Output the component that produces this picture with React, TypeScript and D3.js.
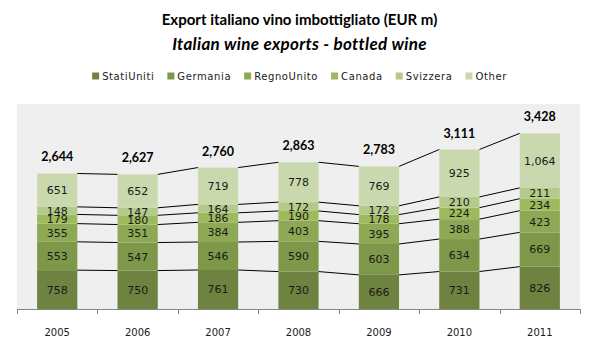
import React, { useRef, useEffect } from "react";
import * as d3 from "d3";

// values (EUR m)
const years = ["2005", "2006", "2007", "2008", "2009", "2010", "2011"];
const seriesNames = ["StatiUniti", "Germania", "RegnoUnito", "Canada", "Svizzera", "Other"];
const statiUniti = [758, 750, 761, 730, 666, 731, 826];
const germania = [553, 547, 546, 590, 603, 634, 669];
const regnoUnito = [355, 351, 384, 403, 395, 388, 423];
const canada = [179, 180, 186, 190, 178, 224, 234];
const svizzera = [148, 147, 164, 172, 172, 210, 211];
const other = [651, 652, 719, 778, 769, 925, 1064];
const totals = [2644, 2627, 2760, 2863, 2783, 3111, 3428];
const colors = ["#6e833f", "#7e9849", "#8ea955", "#9dbb5c", "#b4ca8b", "#c9d9ad"];

const W = 599;
const H = 351;
const plot = { left: 17, right: 580, top: 104, bottom: 309 };

export default function App() {
  const ref = useRef<SVGSVGElement>(null);

  useEffect(() => {
    if (!ref.current) return;
    const svg = d3.select(ref.current);
    svg.selectAll("*").remove();

    const valueFont = "'DejaVu Sans', Verdana, sans-serif";
    const titleFont = "Lato, 'Open Sans', sans-serif";

    const cols = [statiUniti, germania, regnoUnito, canada, svizzera, other];
    const rows = years.map((y, i) => {
      const r: any = { year: y };
      seriesNames.forEach((s, k) => (r[s] = cols[k][i]));
      return r;
    });
    const stacked = d3.stack().keys(seriesNames)(rows);

    const x = d3.scaleBand().domain(years).range([plot.left, plot.right]).paddingInner(0.5).paddingOuter(0.25);
    const y = d3.scaleLinear().domain([0, 4000]).range([plot.bottom, plot.top]);
    const bw = x.bandwidth();

    // plot background
    svg.append("rect").attr("x", plot.left).attr("y", plot.top)
      .attr("width", plot.right - plot.left).attr("height", plot.bottom - plot.top).attr("fill", "#efefef");

    // bars
    stacked.forEach((layer, k) => {
      svg.append("g").selectAll("rect").data(layer).enter().append("rect")
        .attr("x", (d: any) => x(d.data.year)!)
        .attr("y", (d) => y(d[1]))
        .attr("width", bw)
        .attr("height", (d) => y(d[0]) - y(d[1]))
        .attr("fill", colors[k]);
    });

    // series lines between bars
    stacked.forEach((layer) => {
      for (let i = 0; i < layer.length - 1; i++) {
        svg.append("line")
          .attr("x1", x(years[i])! + bw).attr("y1", y(layer[i][1]))
          .attr("x2", x(years[i + 1])!).attr("y2", y(layer[i + 1][1]))
          .attr("stroke", "#000").attr("stroke-width", 1);
      }
    });

    // segment values
    stacked.forEach((layer) => {
      svg.append("g").selectAll("text").data(layer).enter().append("text")
        .attr("x", (d: any) => x(d.data.year)! + bw / 2)
        .attr("y", (d) => (y(d[0]) + y(d[1])) / 2)
        .attr("dy", "0.36em").attr("text-anchor", "middle")
        .attr("font-family", valueFont).attr("font-size", "11px").attr("fill", "#1a1a1a")
        .text((d) => d3.format(",")(d[1] - d[0]));
    });

    // totals
    svg.append("g").selectAll("text").data(totals).enter().append("text")
      .attr("x", (d, i) => x(years[i])! + bw / 2)
      .attr("y", (d, i) => y(stacked[stacked.length - 1][i][1]) - 12)
      .attr("text-anchor", "middle")
      .attr("font-family", titleFont).attr("font-weight", "700").attr("font-size", "12.5px").attr("fill", "#000")
      .text((d) => d3.format(",")(d));

    // x axis
    svg.append("line").attr("x1", plot.left).attr("x2", plot.right)
      .attr("y1", plot.bottom + 0.5).attr("y2", plot.bottom + 0.5).attr("stroke", "#868686");
    d3.range(years.length + 1).forEach((k) => {
      const tx = Math.round(plot.left + k * x.step()) + 0.5;
      svg.append("line").attr("x1", tx).attr("x2", tx)
        .attr("y1", plot.bottom).attr("y2", plot.bottom + 5).attr("stroke", "#868686");
    });
    svg.append("g").selectAll("text").data(years).enter().append("text")
      .attr("x", (d) => x(d)! + bw / 2).attr("y", 336)
      .attr("text-anchor", "middle").attr("font-family", valueFont).attr("font-size", "10px").attr("fill", "#1a1a1a")
      .text((d) => d);

    // titles
    svg.append("text").attr("x", W / 2).attr("y", 25).attr("text-anchor", "middle")
      .attr("font-family", titleFont).attr("font-weight", "700").attr("font-size", "15px").attr("fill", "#000")
      .text("Export italiano vino imbottigliato (EUR m)");
    svg.append("text").attr("x", W / 2).attr("y", 50).attr("text-anchor", "middle")
      .attr("font-family", titleFont).attr("font-weight", "700").attr("font-style", "italic")
      .attr("font-size", "17px").attr("letter-spacing", "0.3px").attr("fill", "#000")
      .text("Italian wine exports - bottled wine");

    // legend, centered
    const gap = 13;
    const lg = svg.append("g");
    let cx = 0;
    seriesNames.forEach((s, k) => {
      lg.append("rect").attr("x", cx).attr("y", -3.5).attr("width", 7).attr("height", 7).attr("fill", colors[k]);
      const t = lg.append("text").attr("x", cx + 10).attr("y", 0).attr("dy", "0.35em")
        .attr("font-family", valueFont).attr("font-size", "10px").attr("letter-spacing", "0.6px").attr("fill", "#1a1a1a")
        .text(s);
      cx += 10 + (t.node() as SVGTextElement).getComputedTextLength() + gap;
    });
    const lw = cx - gap;
    lg.attr("transform", `translate(${W / 2 - lw / 2},76)`);
  }, []);

  return (
    <svg ref={ref} width={W} height={H}
      style={{ position: "absolute", left: 0, top: 0, background: "#fff" }} />
  );
}
